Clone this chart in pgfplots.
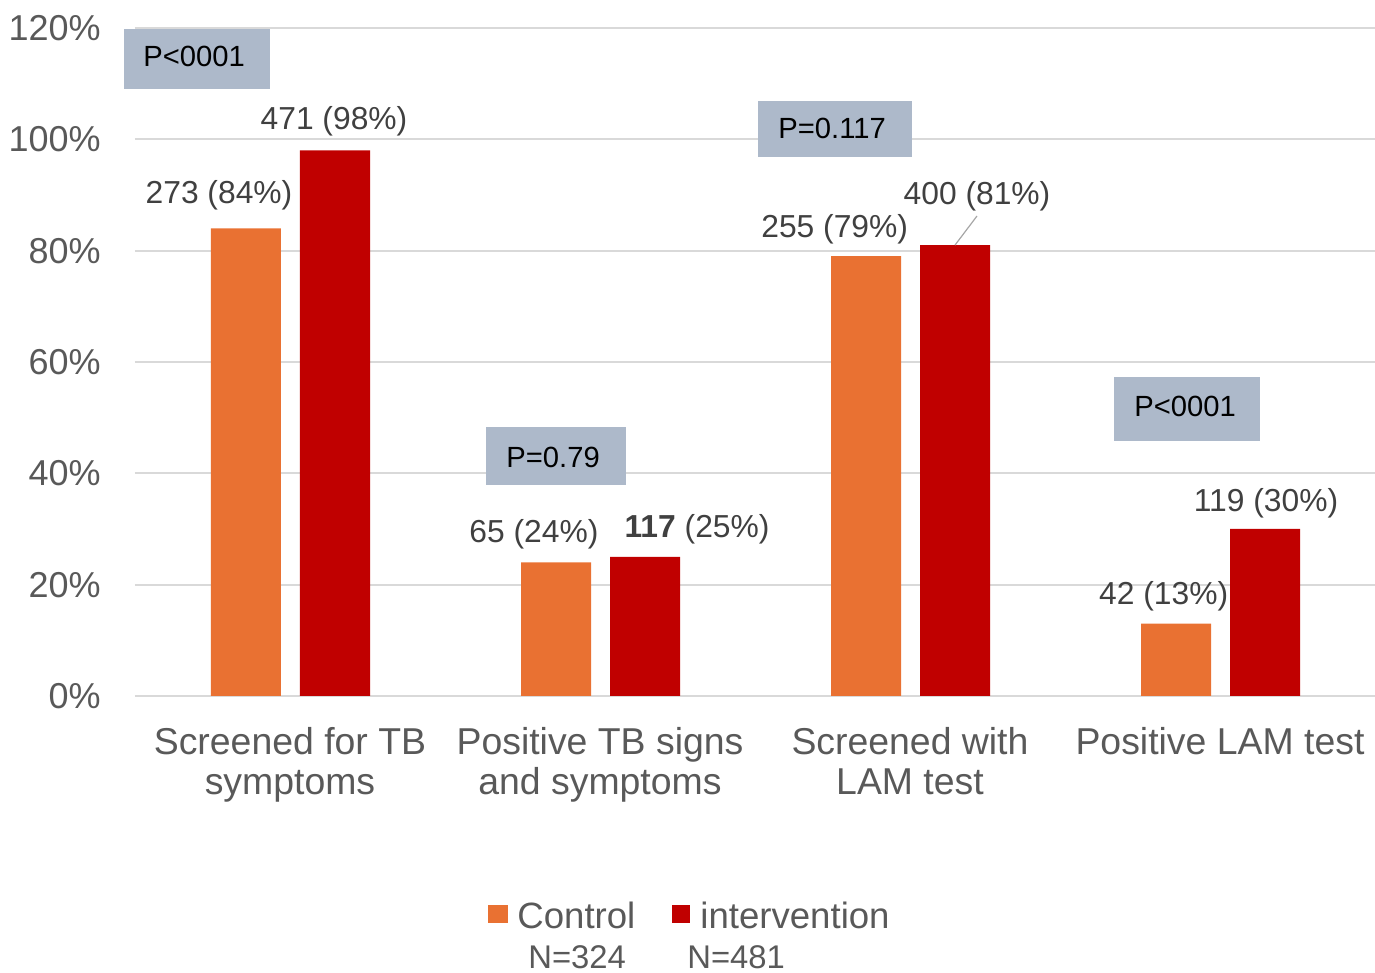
\documentclass[border=0pt]{standalone}
\usepackage{fontspec}
\setmainfont{Liberation Sans}
\usepackage{pgfplots}
\usepackage{pgfplotstable}
\pgfplotsset{compat=1.18}

\definecolor{ctrl}{HTML}{E97132}
\definecolor{intv}{HTML}{C00000}
\definecolor{pbox}{HTML}{ADB9CA}
\definecolor{gridc}{HTML}{D9D9D9}
\definecolor{axtxt}{HTML}{595959}
\definecolor{lbltxt}{HTML}{404040}
\definecolor{leader}{HTML}{A6A6A6}

% share of each arm (percent)
\pgfplotstableread{
x ctrl intv
0 84 98
1 24 25
2 79 81
3 13 30
}\datatab

\newcommand{\lblfont}{\fontsize{15.9}{18}\selectfont}
\newcommand{\pfont}{\fontsize{14.6}{17}\selectfont}
\newcommand{\legfont}{\fontsize{18.3}{21}\selectfont}
\newcommand{\nfont}{\fontsize{16.4}{19}\selectfont}

\begin{document}
\begin{tikzpicture}
\begin{axis}[
  scale only axis, width=620pt, height=334pt,
  xmin=-0.5, xmax=3.5, ymin=0, ymax=120,
  ytick={0,20,...,120},
  yticklabel={\pgfmathprintnumber{\tick}\%},
  /pgf/number format/assume math mode=true,
  xtick={0,1,2,3},
  xticklabels={{Screened for TB\\symptoms},{Positive TB signs\\and symptoms},{Screened with\\LAM test},{Positive LAM test}},
  xticklabel style={align=center, anchor=north, inner sep=0pt, yshift=-15.5pt,
    font=\fontsize{18.7}{20}\selectfont, text=axtxt},
  yticklabel style={anchor=east, inner sep=0pt, xshift=-17pt,
    font=\fontsize{18}{20}\selectfont, text=axtxt},
  major tick length=0pt,
  axis line style={draw=none},
  ymajorgrids, grid style={gridc, line width=1pt},
  ybar, bar width=35pt,
  clip=false,
]
\addplot[fill=ctrl, draw=none, bar shift=-22pt] table[x=x,y=ctrl]{\datatab};
\addplot[fill=intv, draw=none, bar shift=22.5pt] table[x=x,y=intv]{\datatab};
\coordinate (b3) at (axis cs:2,81);
\end{axis}

\begin{scope}[shift={(-67.5pt,348pt)}, x=0.5pt, y=-0.5pt]
  % p-value boxes
  \fill[pbox] (124,29) rectangle (270,88.7);
  \node[anchor=base west, inner sep=0pt, font=\pfont] at (143,66.7) {P<0001};
  \fill[pbox] (486,426.7) rectangle (626,484.7);
  \node[anchor=base west, inner sep=0pt, font=\pfont] at (506,467.3) {P=0.79};
  \fill[pbox] (758,101) rectangle (912,156.7);
  \node[anchor=base west, inner sep=0pt, font=\pfont] at (778,138.3) {P=0.117};
  \fill[pbox] (1114,376.7) rectangle (1260,440.7);
  \node[anchor=base west, inner sep=0pt, font=\pfont] at (1134,416.7) {P<0001};

  % value labels
  \begin{scope}[every node/.style={anchor=base, inner sep=0pt, font=\lblfont, text=lbltxt}]
    \node at (219,204) {273 (84\%)};
    \node at (334,130) {471 (98\%)};
    \node at (534,543) {65 (24\%)};
    \node at (697,538) {\textbf{117} (25\%)};
    \node at (834.7,238) {255 (79\%)};
    \node at (977,205) {400 (81\%)};
    \node at (1163.7,605) {42 (13\%)};
    \node at (1266,511.7) {119 (30\%)};
  \end{scope}
  \draw[leader, line width=0.6pt] ([xshift=22.5pt]b3) -- (977,216);

  % legend
  \fill[ctrl] (488,905) rectangle (508,923);
  \node[anchor=base west, inner sep=0pt, font=\legfont, text=axtxt] at (517,928.3) {Control};
  \fill[intv] (672,905) rectangle (690,923);
  \node[anchor=base west, inner sep=0pt, font=\legfont, text=axtxt] at (700,928.3) {intervention};
  \node[anchor=base west, inner sep=0pt, font=\nfont, text=axtxt] at (528,968.5) {N=324};
  \node[anchor=base west, inner sep=0pt, font=\nfont, text=axtxt] at (687,968.5) {N=481};

  \pgfresetboundingbox
  \path[use as bounding box] (0,0) rectangle (1375,973);
\end{scope}
\end{tikzpicture}
\end{document}
